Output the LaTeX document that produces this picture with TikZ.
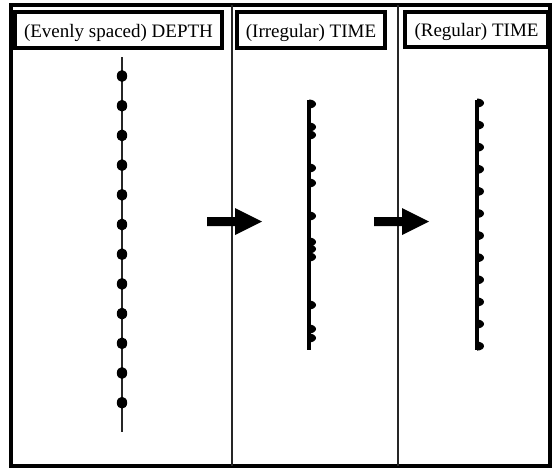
\documentclass[tikz,border=0pt]{standalone}
\usepackage{fontspec}
\setmainfont{Liberation Serif}
\tikzset{
  frameline/.style={line width=3.5pt, draw=black},
  divider/.style={line width=1.2pt, draw=black!85},
  titlebox/.style={draw=black, line width=3.5pt, fill=white, inner sep=0pt,
    text height=16pt, text depth=2pt, font=\fontsize{19}{21}\selectfont},
  depthline/.style={line width=1.5pt, draw=black!85},
  timeline/.style={line width=4pt, draw=black},
  bigarrow/.style={fill=black, draw=none}
}
\newcommand{\tickmark}[2]{\fill (#1,#2-4.5) arc[start angle=-90, end angle=90, x radius=7, y radius=4.5] -- cycle;}
\begin{document}
\begin{tikzpicture}[x=1pt,y=-1pt]
\useasboundingbox (0,0) rectangle (553,471);
\fill[white] (0,0) rectangle (553,471);
% outer frame
\draw[frameline] (11,5) rectangle (550,466);
% dividers
\draw[divider] (232,5) -- (232,466);
\draw[divider] (398,5) -- (398,466);
% titles
\node[titlebox, minimum width=207pt, minimum height=36pt] (t1) at (118.5,30) {(Evenly spaced) DEPTH};
\node[titlebox, minimum width=148pt, minimum height=36pt] (t2) at (311,30) {(Irregular) TIME};
\node[titlebox, minimum width=143pt, minimum height=35pt] (t3) at (476.5,29.5) {(Regular) TIME};
% depth column
\draw[depthline] (122,57) -- (122,432);
\foreach \i in {0,...,11} {
  \fill (122,{76+\i*29.7}) ellipse [x radius=5.2, y radius=6];
}
% irregular time column
\draw[timeline] (309,100) -- (309,350);
\foreach \yy in {104,127,135,168,183,216,242,249,257,305,329,338} {
  \tickmark{309}{\yy}
}
% regular time column
\draw[timeline] (477,100) -- (477,350);
\foreach \i in {0,...,11} {
  \tickmark{477}{103+\i*22.1}
}
% arrows
\fill[bigarrow] (207,217) -- (235,217) -- (235,208) -- (262,221.5) -- (235,235) -- (235,226) -- (207,226) -- cycle;
\fill[bigarrow] (374,217) -- (402,217) -- (402,208) -- (429,221.5) -- (402,235) -- (402,226) -- (374,226) -- cycle;
\end{tikzpicture}
\end{document}
